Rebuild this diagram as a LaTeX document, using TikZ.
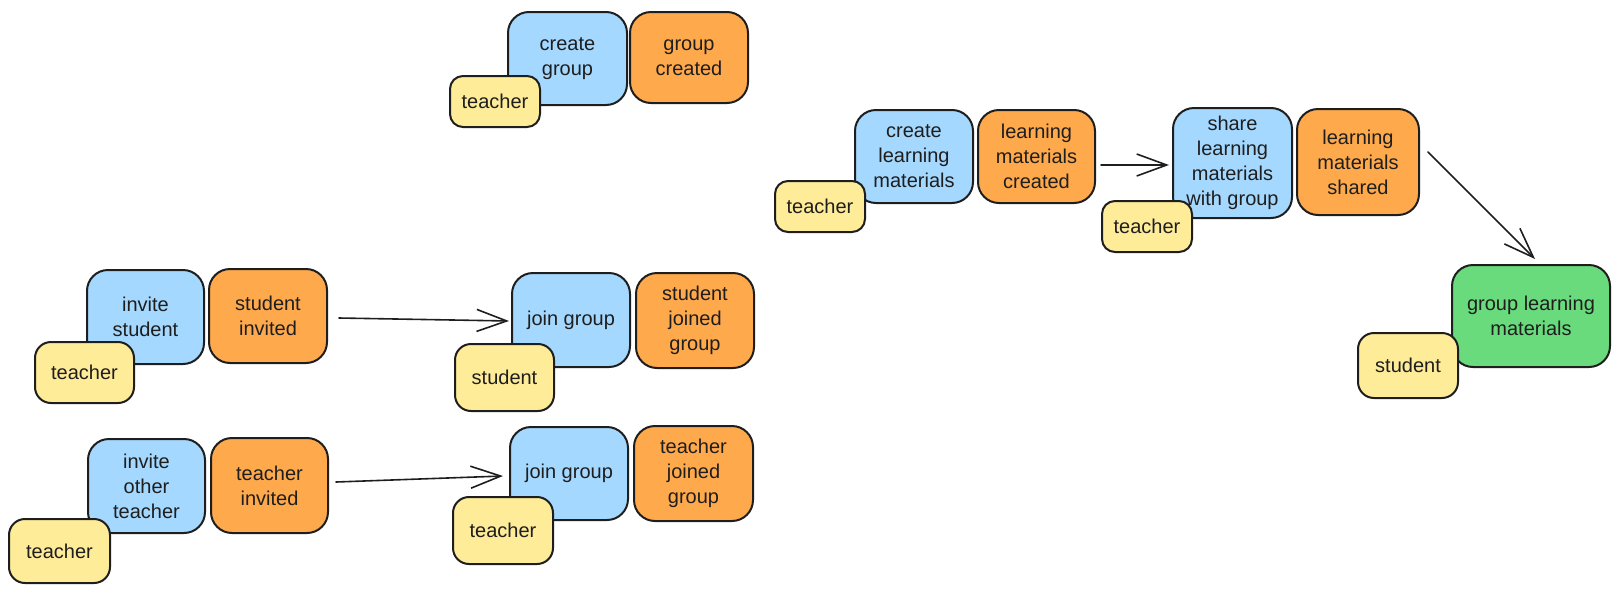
\documentclass[tikz,border=0pt]{standalone}
\usepackage{fontspec}
\setmainfont{Liberation Sans}
\usetikzlibrary{arrows.meta}
\definecolor{ink}{HTML}{1E1E1E}
\definecolor{blu}{HTML}{A5D8FF}
\definecolor{org}{HTML}{FFA94D}
\definecolor{yel}{HTML}{FFEC99}
\definecolor{grn}{HTML}{69DB7C}
\begin{document}
\begin{tikzpicture}[x=1pt,y=-1pt,
  card/.style={draw=ink, line width=2pt, inner sep=0pt, align=center, text=ink,
    font=\fontsize{20}{25}\selectfont},
  cmd/.style={card, fill=blu, rounded corners=21pt},
  evt/.style={card, fill=org, rounded corners=21pt},
  actor/.style={card, fill=yel, rounded corners=13pt},
  actorb/.style={card, fill=yel, rounded corners=16pt},
  view/.style={card, fill=grn, rounded corners=21pt},
  flow/.style={draw=ink, line width=1.6pt, line cap=round,
    -{Straight Barb[length=30pt,width=22pt,line width=1.6pt]}}]
\useasboundingbox (0,0) rectangle (1619,592);

% group 1
\node[cmd, minimum width=119pt, minimum height=93pt] (cg) at (567.5,58.5) {create\\group};
\node[evt, minimum width=118pt, minimum height=91pt] (gc) at (689,57.5) {group\\created};
\node[actor, minimum width=90pt, minimum height=51pt] (t1) at (495,101.5) {teacher};

% group 2
\node[cmd, minimum width=118pt, minimum height=93pt] (clm) at (914,156.5) {create\\learning\\materials};
\node[evt, minimum width=117pt, minimum height=93pt] (lmc) at (1036.5,156.5) {learning\\materials\\created};
\node[actor, minimum width=90pt, minimum height=51pt] (t2) at (820,206.5) {teacher};

% group 3
\node[cmd, minimum width=119pt, minimum height=110pt] (slm) at (1232.5,163) {share\\learning\\materials\\with group};
\node[evt, minimum width=122pt, minimum height=106pt] (lms) at (1358,162) {learning\\materials\\shared};
\node[actor, minimum width=90pt, minimum height=51pt] (t3) at (1147,226.5) {teacher};

% group 4
\node[view, minimum width=158pt, minimum height=102pt] (glm) at (1531,316) {group learning\\materials};
\node[actorb, minimum width=100pt, minimum height=65pt] (s1) at (1408,365.5) {student};

% group 5
\node[cmd, minimum width=117pt, minimum height=94pt] (is) at (145.5,317) {invite\\student};
\node[evt, minimum width=118pt, minimum height=94pt] (si) at (268,316) {student\\invited};
\node[actorb, minimum width=99pt, minimum height=61pt] (t4) at (84.5,372.5) {teacher};

% group 6
\node[cmd, minimum width=117pt, minimum height=94pt] (iot) at (146.5,486) {invite\\other\\teacher};
\node[evt, minimum width=117pt, minimum height=95pt] (ti) at (269.5,485.5) {teacher\\invited};
\node[actorb, minimum width=101pt, minimum height=64pt] (t5) at (59.5,551) {teacher};

% group 7
\node[cmd, minimum width=118pt, minimum height=94pt] (jg1) at (571,320) {join group};
\node[evt, minimum width=118pt, minimum height=95pt] (sjg) at (695,320.5) {student\\joined\\group};
\node[actorb, minimum width=99pt, minimum height=67pt] (s2) at (504.5,377.5) {student};

% group 8
\node[cmd, minimum width=118pt, minimum height=93pt] (jg2) at (569,473.5) {join group};
\node[evt, minimum width=119pt, minimum height=95pt] (tjg) at (693.5,473.5) {teacher\\joined\\group};
\node[actorb, minimum width=100pt, minimum height=67pt] (t6) at (503,530.5) {teacher};

% connectors
\draw[flow] ([shift={(5,8.5)}]lmc.east) -- ([shift={(-3,2)}]slm.west);
\draw[flow] ([shift={(11,2)}]si.east) -- ([shift={(-2,1)}]jg1.west);
\draw[flow] ([shift={(7,-3.5)}]ti.east) -- ([shift={(-6,2.5)}]jg2.west);
\draw[flow] ([shift={(8,-10)}]lms.east) -- ([shift={(4,-5)}]glm.north);
\end{tikzpicture}
\end{document}
